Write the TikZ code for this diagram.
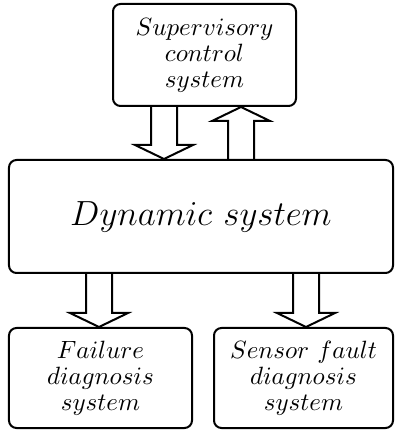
\documentclass[tikz,border=0pt]{standalone}
\usepackage{graphicx}
\usetikzlibrary{calc}

\tikzset{
	sysbox/.style={draw, thick, rounded corners=3pt, align=center, inner sep=0pt,
		font=\fontsize{10}{10.4}\selectfont},
	fatarrow/.style={thick, line join=miter}
}

% hollow block arrow from #1 to #2 (tip at #2)
\newcommand{\blockarrow}[2]{%
	\draw[fatarrow] let \p1=(#1), \p2=(#2), \n1={sign(\y2-\y1)} in
		({\x1-5.2pt},\y1) -- ({\x1-5.2pt},{\y2-\n1*5.6pt})
		-- ({\x1-11.6pt},{\y2-\n1*5.6pt}) -- (\x2,\y2)
		-- ({\x1+11.6pt},{\y2-\n1*5.6pt}) -- ({\x1+5.2pt},{\y2-\n1*5.6pt})
		-- ({\x1+5.2pt},\y1);
}

\begin{document}
\begin{tikzpicture}[x=0.4pt, y=0.4pt]
		\useasboundingbox (0,0) rectangle (394,432);
		
		%boxes
		\node[sysbox, minimum width=73.2pt, minimum height=40.8pt] (sup) at (204.5, 377)
			{$Supervisory$\\$control$\\$system$};
		\node[sysbox, minimum width=153.6pt, minimum height=45.2pt, font=\Large] (dyn) at (201, 215.5)
			{\scalebox{0.97}{$Dynamic\ system$}};
		\node[sysbox, minimum width=73.2pt, minimum height=40pt] (fail) at (100.5, 54)
			{$Failure$\\$diagnosis$\\$system$};
		\node[sysbox, minimum width=71.6pt, minimum height=40pt] (sens) at (303.5, 54)
			{$Sensor\ fault$\\$diagnosis$\\$system$};
		
		%arrow positions
		\coordinate (ctrl) at (164, 0);
		\coordinate (meas) at (241, 0);
		\coordinate (fdi) at (99, 0);
		\coordinate (sfdi) at (306, 0);
		
		%arrows
		\blockarrow{sup.south -| ctrl}{dyn.north -| ctrl}
		\blockarrow{dyn.north -| meas}{sup.south -| meas}
		\blockarrow{dyn.south -| fdi}{fail.north -| fdi}
		\blockarrow{dyn.south -| sfdi}{sens.north -| sfdi}
\end{tikzpicture}
\end{document}
